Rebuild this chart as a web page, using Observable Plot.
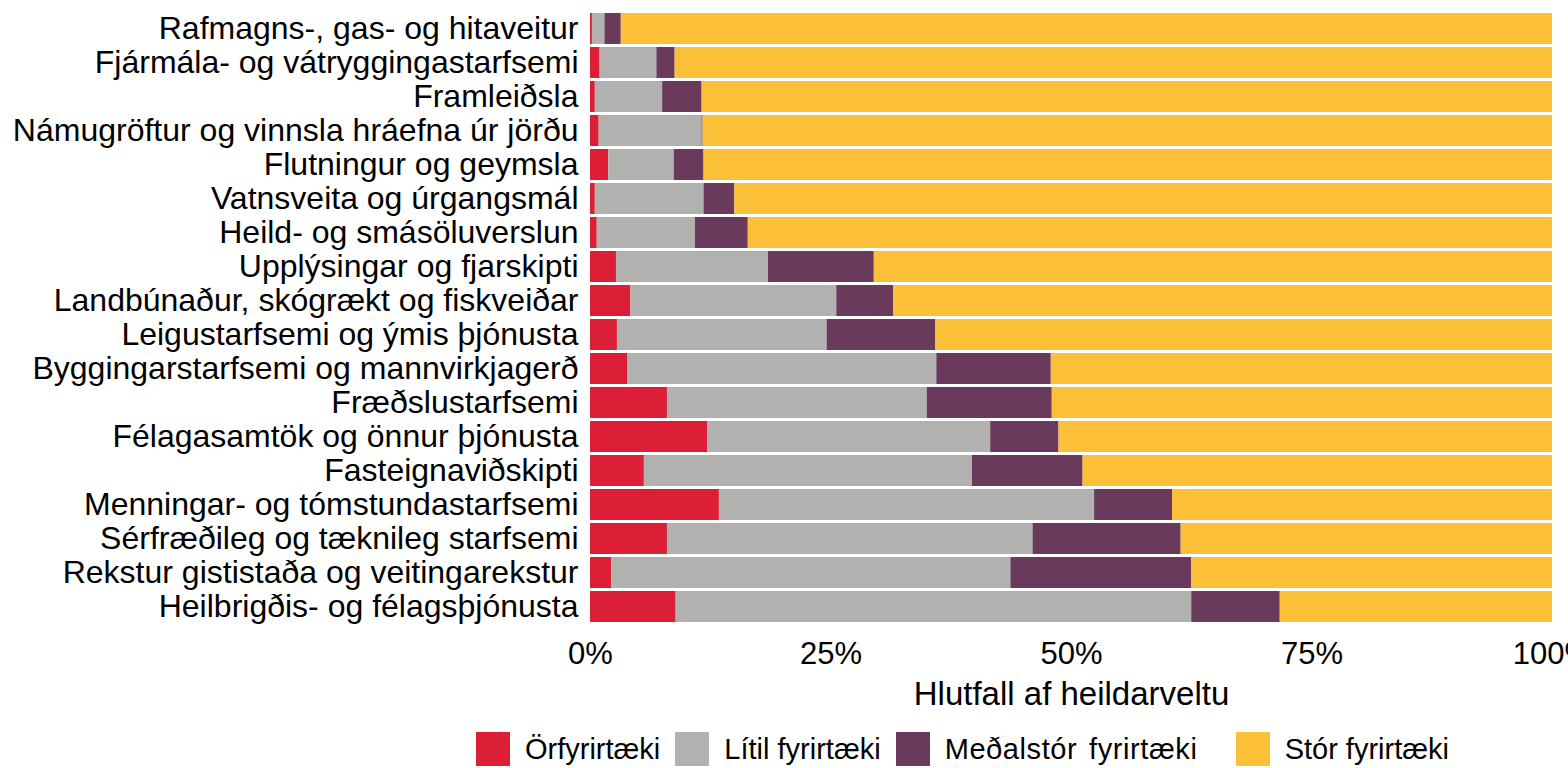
<!DOCTYPE html>
<html>
<head>
<meta charset="utf-8">
<script src="https://cdn.jsdelivr.net/npm/d3@7"></script>
<script src="https://cdn.jsdelivr.net/npm/@observablehq/plot@0.6"></script>
<style>
  html, body { margin: 0; padding: 0; background: #fff; overflow: hidden; }
  #wrap { position: relative; width: 1568px; height: 768px; font-family: "Liberation Sans", Arial, sans-serif; }
  #legend { position: absolute; top: 732px; left: 476px; display: flex; align-items: center; font-size: 29px; color: #000; white-space: nowrap; }
  .sw { width: 34px; height: 34px; margin-right: 15px; flex: none; }
  .lab { margin-right: 15px; display: inline-block; }
  .lab.wide { min-width: 276px; letter-spacing: 0.6px; word-spacing: 3px; }
</style>
</head>
<body>
<div id="wrap"><div id="chart"></div><div id="legend"></div></div>
<script>
const categories = [
  "Rafmagns-, gas- og hitaveitur",
  "Fjármála- og vátryggingastarfsemi",
  "Framleiðsla",
  "Námugröftur og vinnsla hráefna úr jörðu",
  "Flutningur og geymsla",
  "Vatnsveita og úrgangsmál",
  "Heild- og smásöluverslun",
  "Upplýsingar og fjarskipti",
  "Landbúnaður, skógrækt og fiskveiðar",
  "Leigustarfsemi og ýmis þjónusta",
  "Byggingarstarfsemi og mannvirkjagerð",
  "Fræðslustarfsemi",
  "Félagasamtök og önnur þjónusta",
  "Fasteignaviðskipti",
  "Menningar- og tómstundastarfsemi",
  "Sérfræðileg og tæknileg starfsemi",
  "Rekstur gististaða og veitingarekstur",
  "Heilbrigðis- og félagsþjónusta"
];
const seriesNames = ["Örfyrirtæki", "Lítil fyrirtæki", "Meðalstór fyrirtæki", "Stór fyrirtæki"];
const seriesColors = ["#DC1F36", "#B1B2AF", "#6A3A5C", "#FBBF38"];
const orfyrirtaeki = [0.2, 1.0, 0.5, 0.9, 1.9, 0.5, 0.7, 2.7, 4.2, 2.8, 3.9, 8.0, 12.2, 5.6, 13.4, 8.0, 2.2, 8.9];
const litil = [1.3, 5.9, 7.0, 10.7, 6.8, 11.3, 10.2, 15.8, 21.4, 21.8, 32.1, 27.0, 29.4, 34.1, 39.0, 38.0, 41.5, 53.6];
const medalstor = [1.7, 1.9, 4.1, 0.1, 3.1, 3.2, 5.5, 11.0, 5.9, 11.3, 11.9, 13.0, 7.1, 11.5, 8.1, 15.4, 18.8, 9.2];
const stor = [96.8, 91.2, 88.4, 88.3, 88.2, 85.0, 83.6, 70.5, 68.5, 64.1, 52.1, 52.0, 51.3, 48.8, 39.5, 38.6, 37.5, 28.3];
const xTicks = [0, 25, 50, 75, 100];

const seriesValues = [orfyrirtaeki, litil, medalstor, stor];
const data = [];
seriesNames.forEach((s, si) => {
  categories.forEach((c, ci) => data.push({category: c, series: s, value: seriesValues[si][ci]}));
});

const font = "'Liberation Sans', Arial, sans-serif";
const plot = Plot.plot({
  width: 1568,
  height: 715,
  marginLeft: 590,
  marginRight: 16,
  marginTop: 6,
  marginBottom: 86,
  style: {fontFamily: font, fontSize: "32px", color: "#000", background: "#fff", overflow: "hidden"},
  x: {domain: [0, 100]},
  y: {domain: categories, padding: 0.1},
  color: {domain: seriesNames, range: seriesColors},
  marks: [
    Plot.barX(data, Plot.stackX({x: "value", y: "category", fill: "series", order: seriesNames})),
    Plot.axisX({ticks: xTicks, tickFormat: d => d + "%", tickSize: 0, tickPadding: 12, fontSize: 31, label: null}),
    Plot.axisX({ticks: [], tickSize: 0, fontSize: 33,
      label: "Hlutfall af heildarveltu", labelAnchor: "center", labelArrow: "none", labelOffset: 75}),
    Plot.axisY({tickSize: 0, tickPadding: 12, fontSize: 32, label: null})
  ]
});
document.getElementById("chart").appendChild(plot);

const legend = document.getElementById("legend");
seriesNames.forEach((s, i) => {
  const sw = document.createElement("div");
  sw.className = "sw";
  sw.style.background = seriesColors[i];
  const lab = document.createElement("span");
  lab.className = i === 2 ? "lab wide" : "lab";
  lab.textContent = s;
  legend.appendChild(sw);
  legend.appendChild(lab);
});
</script>
</body>
</html>
